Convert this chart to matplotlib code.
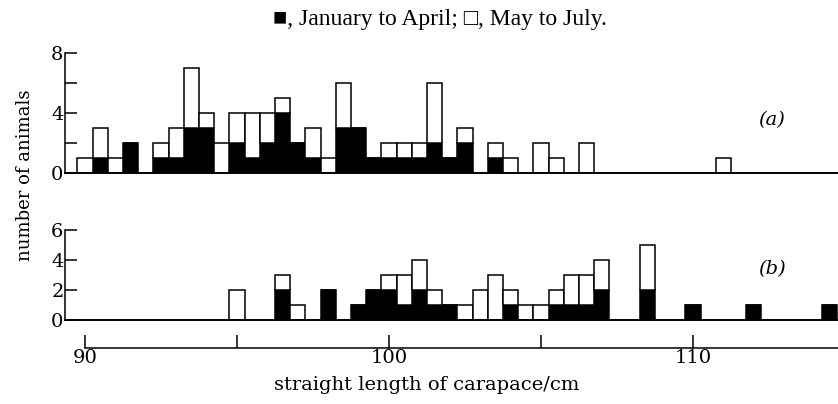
import matplotlib
matplotlib.use('Agg')
import matplotlib.pyplot as plt

# bin centres (cm) and counts, bins 0.5 cm wide
len_a = [90.0, 90.5, 91.0, 91.5, 92.5, 93.0, 93.5, 94.0, 94.5, 95.0, 95.5, 96.0, 96.5, 97.0, 97.5,
         98.0, 98.5, 99.0, 99.5, 100.0, 100.5, 101.0, 101.5, 102.0, 102.5, 103.5, 104.0, 105.0,
         105.5, 106.5, 111.0]
jan_apr_a = [0, 1, 0, 2, 1, 1, 3, 3, 0, 2, 1, 2, 4, 2, 1, 0, 3, 3, 1, 1, 1, 1, 2, 1, 2, 1, 0, 0, 0, 0, 0]
may_jul_a = [1, 2, 1, 0, 1, 2, 4, 1, 2, 2, 3, 2, 1, 0, 2, 1, 3, 0, 0, 1, 1, 1, 4, 0, 1, 1, 1, 2, 1, 2, 1]

len_b = [95.0, 96.5, 97.0, 98.0, 99.0, 99.5, 100.0, 100.5, 101.0, 101.5, 102.0, 102.5, 103.0, 103.5,
         104.0, 104.5, 105.0, 105.5, 106.0, 106.5, 107.0, 108.5, 110.0, 112.0, 114.5]
jan_apr_b = [0, 2, 0, 2, 1, 2, 2, 1, 2, 1, 1, 0, 0, 0, 1, 0, 0, 1, 1, 1, 2, 2, 1, 1, 1]
may_jul_b = [2, 1, 1, 0, 0, 0, 1, 2, 2, 1, 0, 1, 2, 3, 1, 1, 1, 1, 2, 2, 2, 3, 0, 0, 0]

x_ticks = [90, 95, 100, 105, 110]
x_tick_labels = ['90', '', '100', '', '110']

W, H = 838, 404
XMIN, XMAX = 89.34, 114.77
LW = 1.1
plt.rcParams['font.family'] = ['DejaVu Serif']

fig = plt.figure(figsize=(W / 100, H / 100), dpi=100)


def px_axes(left, top, right, bottom):
    return fig.add_axes([left / W, 1 - bottom / H, (right - left) / W, (bottom - top) / H])


def panel(ax, xs, black, white, ymax, yticks, ylabels, tag, tag_y):
    ax.bar(xs, black, width=0.5, color='black', edgecolor='black', linewidth=LW)
    ax.bar(xs, white, width=0.5, bottom=black, color='white', edgecolor='black', linewidth=LW)
    ax.set_xlim(XMIN, XMAX)
    ax.set_ylim(0, ymax)
    for s in ['top', 'right']:
        ax.spines[s].set_visible(False)
    ax.spines['left'].set_linewidth(LW)
    ax.spines['bottom'].set_linewidth(1.4)
    ax.set_xticks([])
    ax.set_yticks(yticks)
    ax.set_yticklabels(ylabels, fontsize=14)
    ax.tick_params(axis='y', direction='in', length=8.5, width=LW, pad=1)
    ax.text(112.6, tag_y, tag, fontsize=14, style='italic', ha='center', va='center')
    ax.patch.set_alpha(0)


ax_a = px_axes(65, 53, 838, 173)
panel(ax_a, len_a, jan_apr_a, may_jul_a, 8, [0, 2, 4, 6, 8], ['0', '', '4', '', '8'], '(a)', 3.5)

ax_b = px_axes(65, 230, 838, 320)
panel(ax_b, len_b, jan_apr_b, may_jul_b, 6, [0, 2, 4, 6], ['0', '2', '4', '6'], '(b)', 3.4)

# separate length scale under the panels
ax_c = px_axes(65, 338, 838, 348)
ax_c.set_xlim(XMIN, XMAX)
for s in ['top', 'right', 'left']:
    ax_c.spines[s].set_visible(False)
ax_c.spines['bottom'].set_bounds(90, XMAX)
ax_c.spines['bottom'].set_linewidth(LW)
ax_c.set_yticks([])
ax_c.set_xticks(x_ticks)
ax_c.set_xticklabels(x_tick_labels, fontsize=14)
ax_c.tick_params(axis='x', direction='in', length=9.5, width=LW, pad=1)
ax_c.patch.set_alpha(0)

fig.text(427 / W, 1 - 385 / H, 'straight length of carapace/cm', fontsize=14,
         ha='center', va='center')
fig.text(25 / W, 1 - 175 / H, 'number of animals', fontsize=13, rotation=90,
         ha='center', va='center')
fig.text(440 / W, 1 - 20 / H, '\u25a0, January to April; \u25a1, May to July.', fontsize=17,
         ha='center', va='center', family=['Liberation Serif', 'DejaVu Sans'])

fig.savefig('out.png', dpi=100)
